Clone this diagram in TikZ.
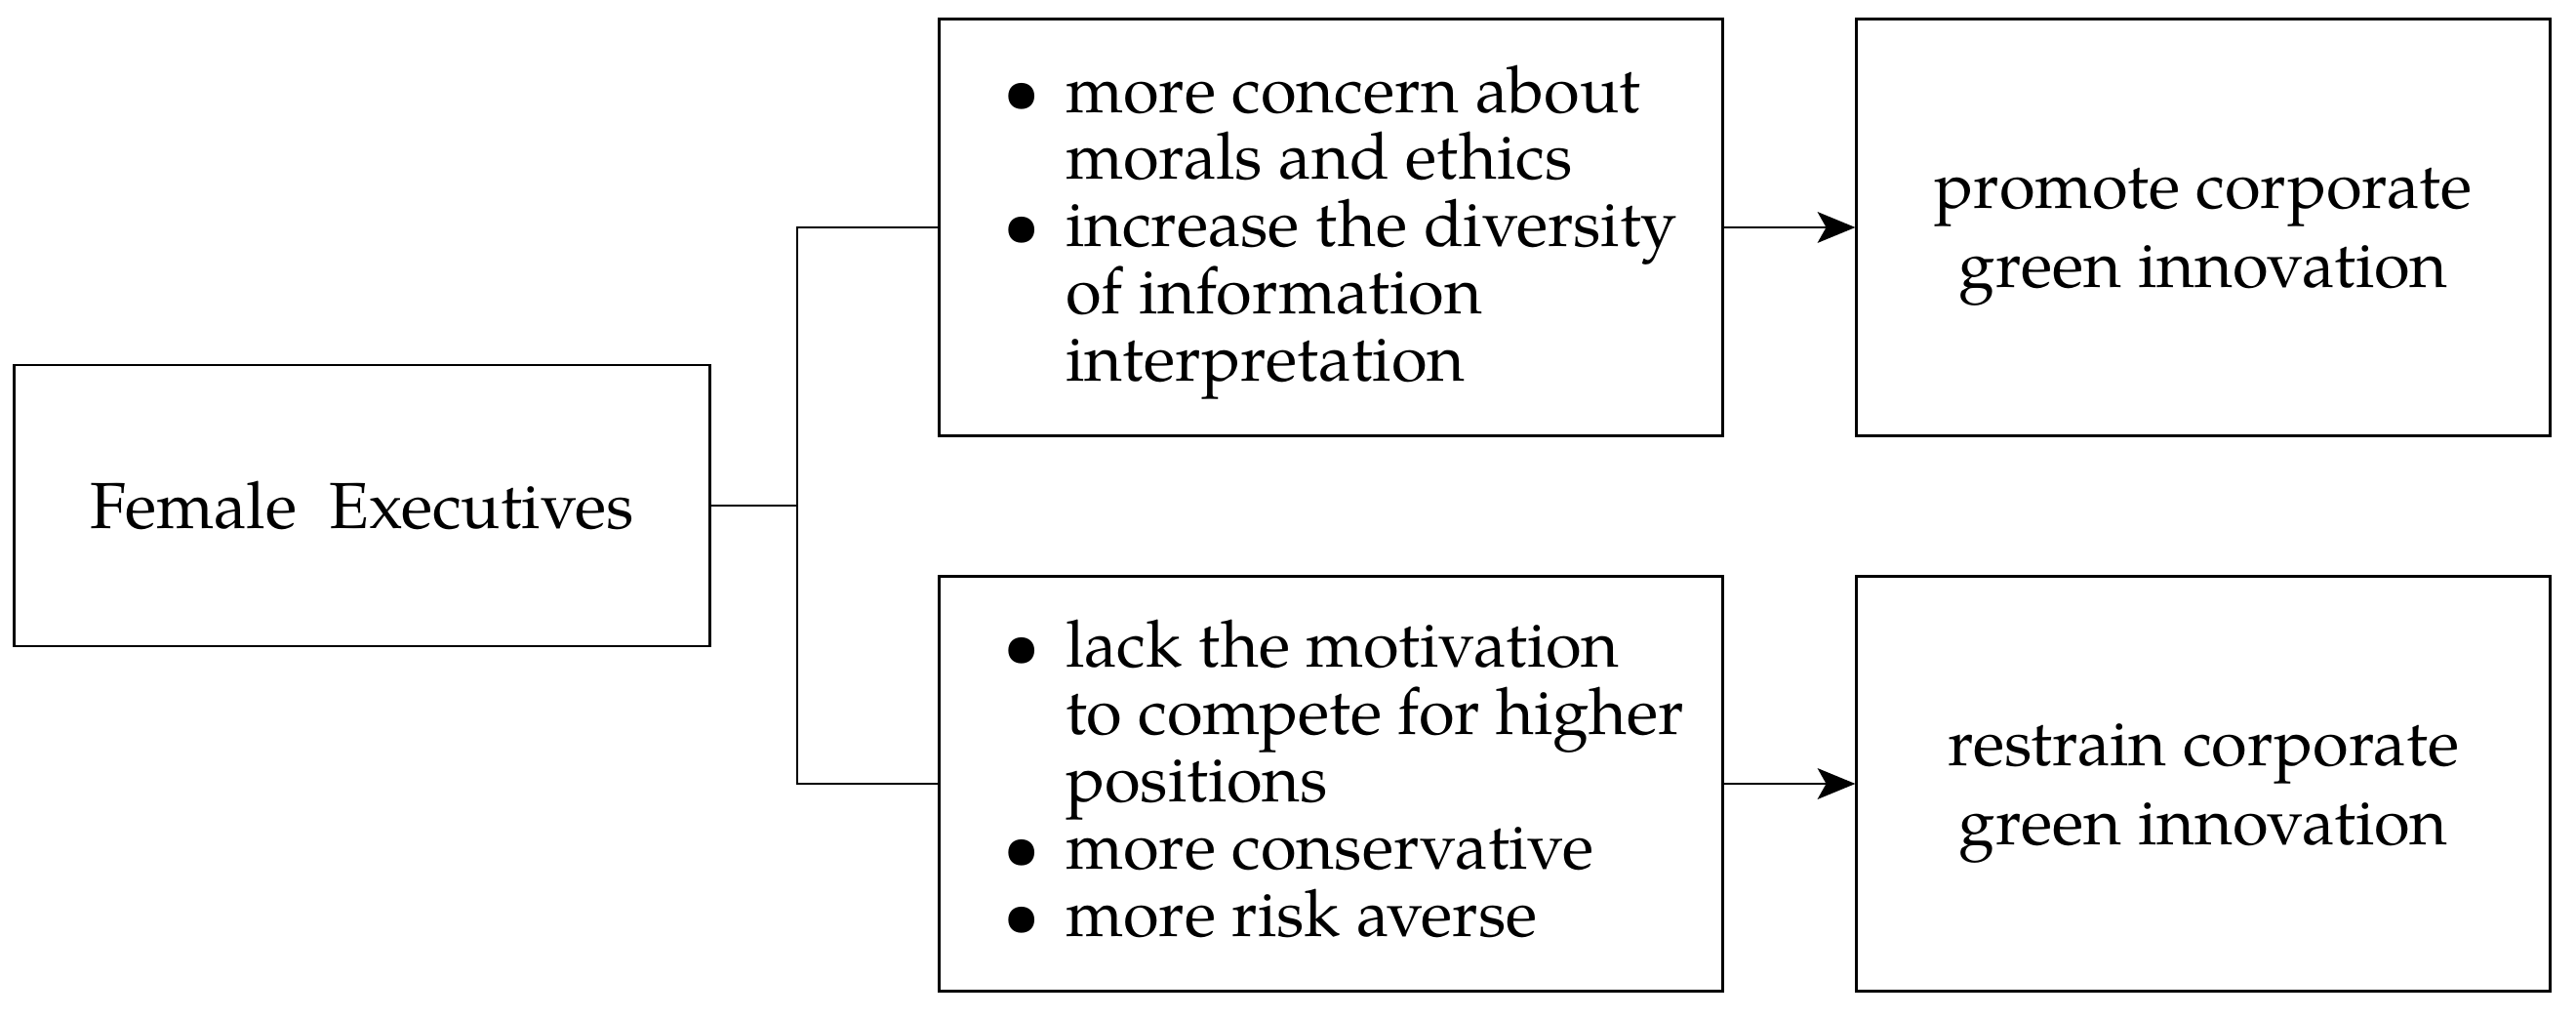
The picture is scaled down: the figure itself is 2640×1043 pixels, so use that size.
\documentclass[tikz,border=0pt]{standalone}
\usepackage{fontspec}
\setmainfont{TeX Gyre Pagella}
\usetikzlibrary{arrows.meta}
\newcommand\bitem{\makebox[1.3cm][l]{\hspace{0.66cm}\textbullet}}
\newcommand\bcont{\hspace*{1.3cm}}
\begin{document}
\begin{tikzpicture}[x=0.01cm,y=-0.01cm,
  txt/.style={font=\fontsize{19}{19.6}\selectfont},
  wide/.style={font=\fontsize{19}{23}\selectfont},
  box/.style={draw, line width=0.8pt, inner sep=0pt, txt},
  link/.style={line width=0.8pt},
  arr/.style={line width=0.8pt, -{Stealth[length=11pt,width=9pt,inset=2.5pt]}}]
\useasboundingbox (0,0) rectangle (2640,1043);
\node[box, minimum width=7.12cm, minimum height=2.88cm, align=center] (fe) at (371,518) {Female\ \ Executives};
\node[box, minimum width=8.02cm, minimum height=4.26cm] (m1) at (1364,233) {};
\node[box, minimum width=8.02cm, minimum height=4.24cm] (m2) at (1364,803) {};
\node[txt, anchor=west, align=left, inner sep=0pt, yshift=-0.05cm] (m1t) at (m1.west) {%
\bitem more concern about\\
\bcont morals and ethics\\
\bitem increase the diversity\\
\bcont of information\\
\bcont interpretation};
\node[txt, anchor=west, align=left, inner sep=0pt, yshift=0.05cm] (m2t) at (m2.west) {%
\bitem lack the motivation\\
\bcont to compete for higher\\
\bcont positions\\
\bitem more conservative\\
\bitem more risk averse};
\node[box, minimum width=7.10cm, minimum height=4.26cm] (r1) at (2258,233) {};
\node[box, minimum width=7.10cm, minimum height=4.24cm] (r2) at (2258,803) {};
\node[wide, align=center, inner sep=0pt, yshift=-0.1cm] (r1t) at (r1.center) {promote corporate\\green innovation};
\node[wide, align=center, inner sep=0pt, yshift=-0.1cm] (r2t) at (r2.center) {restrain corporate\\green innovation};
\coordinate (j) at (817,518);
\draw[link] (fe.east) -- (j);
\draw[link] (m1.west) -- (m1.west -| j) -- (m2.west -| j) -- (m2.west);
\draw[arr] (m1.east) -- (r1.west);
\draw[arr] (m2.east) -- (r2.west);
\end{tikzpicture}
\end{document}
